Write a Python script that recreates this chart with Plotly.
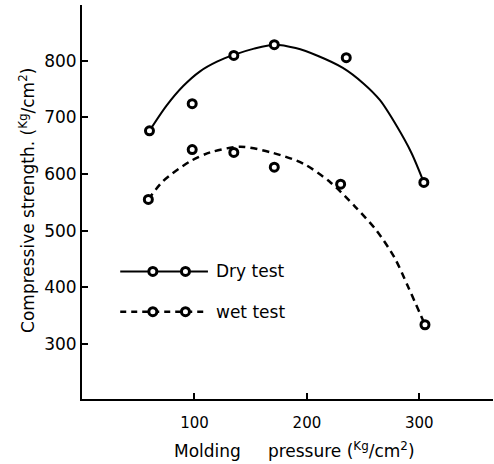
import plotly.graph_objects as go

# ---- data ----
dry_x = [60, 98, 135, 171, 235, 304]
dry_y = [676, 724, 809, 828, 805, 585]
wet_x = [59, 98, 135, 171, 230, 305]
wet_y = [555, 643, 638, 612, 582, 334]

# hand-drawn fitted curves
dry_curve_x = [60, 75, 90, 105, 120, 135, 153, 171, 190, 210, 232, 250, 265, 280, 293, 304]
dry_curve_y = [676, 720, 755, 781, 798, 810, 821, 828, 822, 808, 787, 760, 730, 684, 637, 585]
wet_curve_x = [59, 72, 96, 114, 141, 170, 197, 221, 243, 262, 278, 290, 305]
wet_curve_y = [555, 587, 622, 638, 648, 637, 618, 585, 542, 500, 452, 401, 334]

x_ticks = [100, 200, 300]
y_ticks = [300, 400, 500, 600, 700, 800]
series_names = ["Dry test", "wet test"]

FONT = "DejaVu Sans"
marker = dict(symbol="circle", size=8, color="white", line=dict(color="black", width=3))

fig = go.Figure()
fig.add_trace(go.Scatter(x=dry_curve_x, y=dry_curve_y, mode="lines", line_shape="spline",
                         line=dict(color="black", width=2, smoothing=0.8), showlegend=False,
                         hoverinfo="skip"))
fig.add_trace(go.Scatter(x=wet_curve_x, y=wet_curve_y, mode="lines", line_shape="spline",
                         line=dict(color="black", width=2.5, dash="7px,5px", smoothing=0.8),
                         showlegend=False, hoverinfo="skip"))
fig.add_trace(go.Scatter(x=dry_x, y=dry_y, mode="markers", marker=marker, name=series_names[0],
                         showlegend=False))
fig.add_trace(go.Scatter(x=wet_x, y=wet_y, mode="markers", marker=marker, name=series_names[1],
                         showlegend=False))

# hand-drawn style key inside the plot (data coordinates)
key_x0, key_x1 = 34, 112
key_m = [63, 92]
key_rows = [428, 357]
fig.add_trace(go.Scatter(x=[key_x0, key_x1], y=[key_rows[0]] * 2, mode="lines",
                         line=dict(color="black", width=2), showlegend=False, hoverinfo="skip"))
fig.add_trace(go.Scatter(x=key_m, y=[key_rows[0]] * 2, mode="markers", marker=marker,
                         showlegend=False, hoverinfo="skip"))
fig.add_trace(go.Scatter(x=[key_x0, key_x1], y=[key_rows[1]] * 2, mode="lines",
                         line=dict(color="black", width=2.5, dash="6px,5px"), showlegend=False,
                         hoverinfo="skip"))
fig.add_trace(go.Scatter(x=key_m, y=[key_rows[1]] * 2, mode="markers", marker=marker,
                         showlegend=False, hoverinfo="skip"))
for name, yy in zip(series_names, key_rows):
    fig.add_annotation(x=key_x1 + 5, y=yy, text=name, showarrow=False, xanchor="left",
                       yanchor="middle", font=dict(family=FONT, size=17, color="black"))

unit = "(<sup>Kg</sup>/cm<sup>2</sup>)"
fig.add_annotation(xref="paper", yref="paper", x=0.516, y=-0.129, xanchor="center",
                   yanchor="middle", showarrow=False,
                   text="Molding&nbsp;&nbsp;&nbsp;&nbsp; pressure " + unit,
                   font=dict(family=FONT, size=17, color="black"))
fig.add_annotation(xref="paper", yref="paper", x=-0.134, y=0.505, xanchor="center",
                   yanchor="middle", showarrow=False, textangle=-90,
                   text="Compressive strength. " + unit,
                   font=dict(family=FONT, size=17, color="black"))

fig.update_layout(
    width=494, height=464,
    margin=dict(l=82, r=1, t=5, b=65),
    paper_bgcolor="white", plot_bgcolor="white",
    font=dict(family=FONT, size=16, color="black"),
    showlegend=False,
)
fig.update_xaxes(range=[0, 365.5], tickvals=x_ticks, ticktext=[str(v) for v in x_ticks],
                 showgrid=False, zeroline=False, showline=True, linecolor="black", linewidth=2,
                 ticks="inside", ticklen=6, tickwidth=2, tickcolor="black",
                 ticklabelstandoff=9, tickfont=dict(family=FONT, size=15))
fig.update_yaxes(range=[203, 898], tickvals=y_ticks, ticktext=[str(v) for v in y_ticks],
                 showgrid=False, zeroline=False, showline=True, linecolor="black", linewidth=2,
                 ticks="inside", ticklen=6, tickwidth=2, tickcolor="black",
                 ticklabelstandoff=0, tickfont=dict(family=FONT, size=17))

fig.write_html("out.html")
